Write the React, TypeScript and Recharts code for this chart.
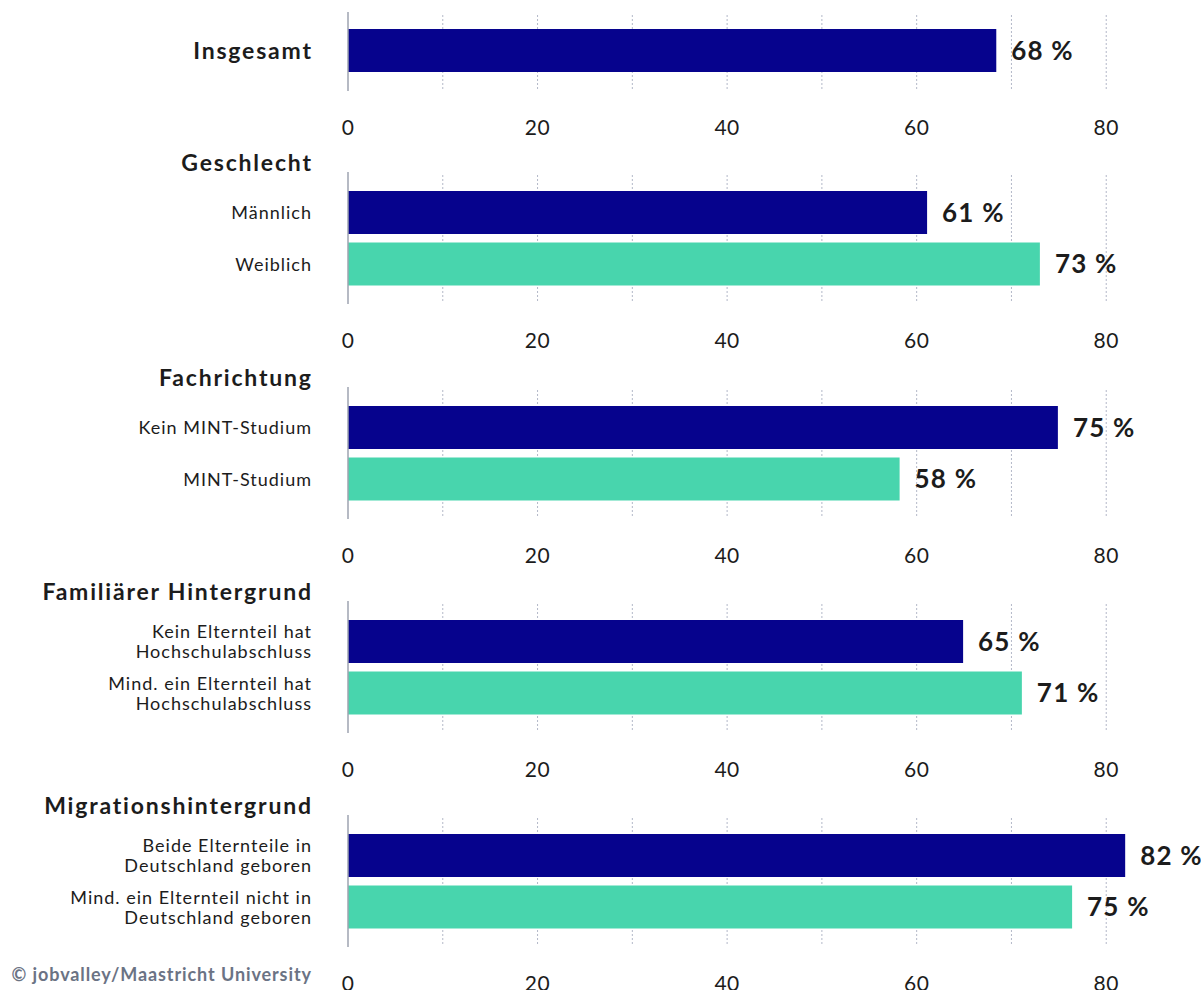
import { Bar, BarChart, CartesianGrid, Cell, LabelList, XAxis, YAxis } from "recharts";

// values (bar length in %), labels as printed
const totalCats = ["Insgesamt"];
const totalValues = [68.4];
const totalLabels = ["68 %"];

const genderCats = ["Männlich", "Weiblich"];
const genderValues = [61.1, 73];
const genderLabels = ["61 %", "73 %"];

const subjectCats = ["Kein MINT-Studium", "MINT-Studium"];
const subjectValues = [74.9, 58.2];
const subjectLabels = ["75 %", "58 %"];

const familyCats = ["Kein Elternteil hat\nHochschulabschluss", "Mind. ein Elternteil hat\nHochschulabschluss"];
const familyValues = [64.9, 71.1];
const familyLabels = ["65 %", "71 %"];

const migrationCats = ["Beide Elternteile in\nDeutschland geboren", "Mind. ein Elternteil nicht in\nDeutschland geboren"];
const migrationValues = [82, 76.4];
const migrationLabels = ["82 %", "75 %"];

const xTicks = [0, 20, 40, 60, 80];
const gridValues = [10, 20, 30, 40, 50, 60, 70, 80];
const barColors = ["#06038D", "#48D5AD"];

const FONT = "Lato, 'Noto Sans', sans-serif";
const TEXT = "#1c1c1c";

const toRows = (cats: string[], values: number[], labels: string[]) =>
  cats.map((name, i) => ({ name, value: values[i], label: labels[i] }));

const CategoryTick = (props: any) => {
  const { x, y, payload, bold } = props;
  const lines = String(payload.value).split("\n");
  const fs = bold ? 23 : 18;
  const ls = bold ? 1.8 : 1;
  const lh = 20;
  const first = y - ((lines.length - 1) * lh) / 2 + fs * 0.36;
  return (
    <text
      x={x + ls}
      y={y}
      textAnchor="end"
      fill={TEXT}
      fontSize={fs}
      fontWeight={bold ? 700 : 400}
      fontFamily={FONT}
      letterSpacing={ls}
    >
      {lines.map((line, i) => (
        <tspan key={i} x={x + ls} y={first + i * lh}>
          {line}
        </tspan>
      ))}
    </text>
  );
};

const GridLine = (props: any) => {
  const { x1, x2, y1, y2 } = props;
  return (
    <line
      x1={x1}
      x2={x2}
      y1={y1 + 3}
      y2={y2 - 2}
      stroke="#b3b8c8"
      strokeWidth={1}
      strokeDasharray="2 2"
    />
  );
};

interface PanelProps {
  top: number;
  plotHeight: number;
  rows: { name: string; value: number; label: string }[];
  padTop: number;
  padBottom: number;
  bold?: boolean;
}

const Panel: React.FC<PanelProps> = ({ top, plotHeight, rows, padTop, padBottom, bold }) => (
  <div style={{ position: "absolute", left: 0, top }}>
    <BarChart
      width={1201}
      height={plotHeight + 50}
      data={rows}
      layout="vertical"
      margin={{ top: 0, right: 0, bottom: 0, left: 0 }}
    >
      <CartesianGrid horizontal={false} verticalValues={gridValues} vertical={(p: any) => <GridLine key={p.key} {...p} />} />
      <XAxis
        type="number"
        domain={[0, 90]}
        ticks={xTicks}
        interval={0}
        axisLine={false}
        tickLine={false}
        tickSize={0}
        tickMargin={29}
        height={50}
        tick={{ fill: TEXT, fontSize: 21, fontFamily: FONT, letterSpacing: 0.5 }}
      />
      <YAxis
        type="category"
        dataKey="name"
        width={348}
        interval={0}
        tickLine={false}
        tickSize={0}
        tickMargin={37}
        axisLine={{ stroke: "#9ea3b1", strokeWidth: 1.5 }}
        padding={{ top: padTop, bottom: padBottom }}
        tick={<CategoryTick bold={bold} />}
      />
      <Bar dataKey="value" barSize={43} isAnimationActive={false}>
        {rows.map((_, i) => (
          <Cell key={i} fill={barColors[i]} />
        ))}
        <LabelList
          dataKey="label"
          position="right"
          offset={15}
          fill={TEXT}
          fontSize={26}
          fontWeight={700}
          fontFamily={FONT}
          letterSpacing={1.2}
        />
      </Bar>
    </BarChart>
  </div>
);

const titles = [
  { text: "Geschlecht", y: 171 },
  { text: "Fachrichtung", y: 386 },
  { text: "Familiärer Hintergrund", y: 600 },
  { text: "Migrationshintergrund", y: 814 },
];

export default function App() {
  return (
    <div
      style={{
        position: "absolute",
        left: 0,
        top: 0,
        width: 1201,
        height: 990,
        background: "#fff",
        fontFamily: FONT,
        overflow: "hidden",
      }}
    >
      <Panel top={12} plotHeight={79} rows={toRows(totalCats, totalValues, totalLabels)} padTop={13} padBottom={15} bold />
      <Panel top={172} plotHeight={132} rows={toRows(genderCats, genderValues, genderLabels)} padTop={15} padBottom={14} />
      <Panel top={387} plotHeight={132} rows={toRows(subjectCats, subjectValues, subjectLabels)} padTop={15} padBottom={14} />
      <Panel top={601} plotHeight={132} rows={toRows(familyCats, familyValues, familyLabels)} padTop={15} padBottom={14} />
      <Panel top={815} plotHeight={132} rows={toRows(migrationCats, migrationValues, migrationLabels)} padTop={15} padBottom={14} />
      <svg
        width={1201}
        height={990}
        style={{ position: "absolute", left: 0, top: 0, pointerEvents: "none" }}
      >
        {titles.map((t) => (
          <text
            key={t.text}
            x={312.8}
            y={t.y}
            textAnchor="end"
            fill={TEXT}
            fontSize={23}
            fontWeight={700}
            fontFamily={FONT}
            letterSpacing={1.8}
          >
            {t.text}
          </text>
        ))}
        <text
          x={311.9}
          y={981}
          textAnchor="end"
          fill="#6b7384"
          fontSize={18}
          fontWeight={700}
          fontFamily={FONT}
          letterSpacing={0.9}
        >
          © jobvalley/Maastricht University
        </text>
      </svg>
    </div>
  );
}
